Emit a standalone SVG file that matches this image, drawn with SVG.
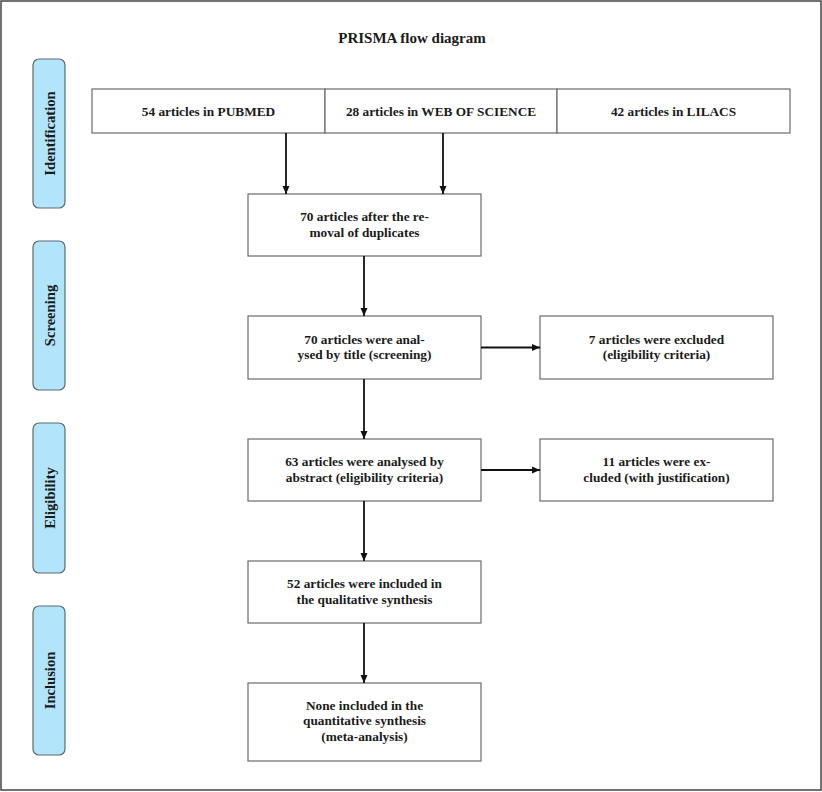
<svg xmlns="http://www.w3.org/2000/svg" width="822" height="792" viewBox="0 0 822 792">
<style>
.box{fill:#fff;stroke:#6a6a6a;stroke-width:1.2}
.side{fill:#b3e5fa;stroke:#5a6a70;stroke-width:1.2}
.t{font-family:"Liberation Serif","DejaVu Serif",serif;font-weight:bold;font-size:13.3px;fill:#1a1a1a;text-anchor:middle}
.title{font-size:15px}
.lbl{font-size:14.6px}
.conn{stroke:#111;stroke-width:1.8;fill:none;marker-end:url(#ah)}
</style>
<defs>
<marker id="ah" markerUnits="userSpaceOnUse" markerWidth="10" markerHeight="10" viewBox="0 0 10 10" refX="9" refY="5" orient="auto">
<path d="M1,1.5 L9,5 L1,8.5 Z" fill="#111"/>
</marker>
</defs>
<rect x="1" y="1" width="820" height="789" fill="#fff" stroke="#444" stroke-width="1.5"/>
<text class="t title" x="412" y="43">PRISMA flow diagram</text>

<g id="lbl-identification"><rect class="side" x="33" y="59" width="32" height="149" rx="6"/><text class="t lbl" transform="translate(54.5,133.5) rotate(-90)">Identification</text></g>
<g id="lbl-screening"><rect class="side" x="33" y="241" width="32" height="149" rx="6"/><text class="t lbl" transform="translate(54.5,315.5) rotate(-90)">Screening</text></g>
<g id="lbl-eligibility"><rect class="side" x="33" y="423" width="32" height="150" rx="6"/><text class="t lbl" transform="translate(54.5,498) rotate(-90)">Eligibility</text></g>
<g id="lbl-inclusion"><rect class="side" x="33" y="606" width="32" height="149" rx="6"/><text class="t lbl" transform="translate(54.5,680.5) rotate(-90)">Inclusion</text></g>

<g id="pubmed"><rect class="box" x="92" y="89" width="233" height="44"/><text class="t" x="208.5" y="115.5">54 articles in PUBMED</text></g>
<g id="wos"><rect class="box" x="325" y="89" width="232" height="44"/><text class="t" x="441" y="115.5">28 articles in WEB OF SCIENCE</text></g>
<g id="lilacs"><rect class="box" x="557" y="89" width="233" height="44"/><text class="t" x="673.5" y="115.5">42 articles in LILACS</text></g>

<g id="dedup"><rect class="box" x="248" y="194" width="233" height="62"/><text class="t" x="364.5" y="221">70 articles after the re-</text><text class="t" x="364.5" y="236.5">moval of duplicates</text></g>
<g id="title-screen"><rect class="box" x="248" y="316" width="233" height="63"/><text class="t" x="364.5" y="343.5">70 articles were anal-</text><text class="t" x="364.5" y="359">ysed by title (screening)</text></g>
<g id="excl1"><rect class="box" x="540" y="316" width="233" height="63"/><text class="t" x="656.5" y="343.5">7 articles were excluded</text><text class="t" x="656.5" y="359">(eligibility criteria)</text></g>
<g id="abstract"><rect class="box" x="248" y="439" width="233" height="62"/><text class="t" x="364.5" y="466">63 articles were analysed by</text><text class="t" x="364.5" y="481.5">abstract (eligibility criteria)</text></g>
<g id="excl2"><rect class="box" x="540" y="439" width="233" height="62"/><text class="t" x="656.5" y="466">11 articles were ex-</text><text class="t" x="656.5" y="481.5">cluded (with justification)</text></g>
<g id="qual"><rect class="box" x="248" y="561" width="233" height="62"/><text class="t" x="364.5" y="588">52 articles were included in</text><text class="t" x="364.5" y="603.5">the qualitative synthesis</text></g>
<g id="quant"><rect class="box" x="248" y="683" width="233" height="78"/><text class="t" x="364.5" y="709.5">None included in the</text><text class="t" x="364.5" y="725">quantitative synthesis</text><text class="t" x="364.5" y="740.5">(meta-analysis)</text></g>

<g id="connectors">
<line class="conn" x1="286" y1="133" x2="286" y2="194"/>
<line class="conn" x1="443" y1="133" x2="443" y2="194"/>
<line class="conn" x1="364" y1="256" x2="364" y2="316"/>
<line class="conn" x1="364" y1="379" x2="364" y2="439"/>
<line class="conn" x1="364" y1="501" x2="364" y2="561"/>
<line class="conn" x1="364" y1="623" x2="364" y2="683"/>
<line class="conn" x1="481" y1="347.5" x2="540" y2="347.5"/>
<line class="conn" x1="481" y1="470" x2="540" y2="470"/>
</g>
</svg>
